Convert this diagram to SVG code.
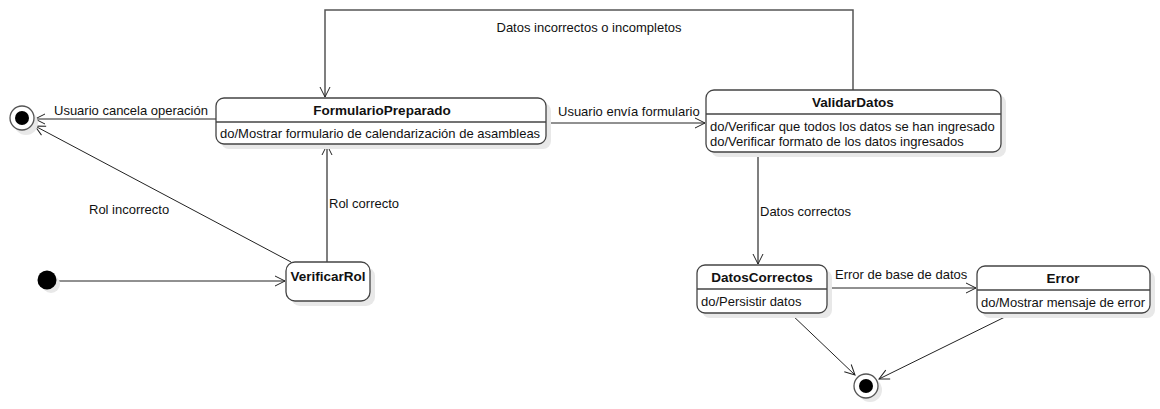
<svg xmlns="http://www.w3.org/2000/svg" width="1160" height="409" viewBox="0 0 1160 409">
<defs>
<style>
text{font-family:"Liberation Sans",Arial,sans-serif;font-size:13px;fill:#111}
.t{font-weight:bold;text-anchor:middle;font-size:13.5px}
.box{fill:#fff;stroke:#444;stroke-width:1.3}
.sh{fill:#e8e8e8;stroke:none}
.div{stroke:#444;stroke-width:1.3}
.c{fill:none;stroke:#222;stroke-width:1}
.cg{fill:none;stroke:#555;stroke-width:1.5}
</style>
<marker id="a" viewBox="0 0 12 12" refX="11" refY="6" markerWidth="12" markerHeight="12" markerUnits="userSpaceOnUse" orient="auto">
<path d="M1,1 L11,6 L1,11" fill="none" stroke="#222" stroke-width="1"/>
</marker>
</defs>
<g id="connectors">
<path class="cg" d="M853,90 V10 H325 V97" marker-end="url(#a)"/>
<text x="589" y="32" text-anchor="middle">Datos incorrectos o incompletos</text>
<path class="c" d="M546,123 H705" marker-end="url(#a)"/>
<text x="558" y="116">Usuario envía formulario</text>
<path class="c" d="M216,119 H35" marker-end="url(#a)"/>
<text x="54" y="115">Usuario cancela operación</text>
<path class="c" d="M291,262 L35,126" marker-end="url(#a)"/>
<text x="89" y="214">Rol incorrecto</text>
<path class="cg" d="M327,262 V145" marker-end="url(#a)"/>
<text x="329" y="208">Rol correcto</text>
<path class="c" d="M56,281 H285" marker-end="url(#a)"/>
<path class="cg" d="M758,152 V264" marker-end="url(#a)"/>
<text x="760" y="216">Datos correctos</text>
<path class="c" d="M827,288 H976" marker-end="url(#a)"/>
<text x="835" y="279">Error de base de datos</text>
<path class="c" d="M790,313 L855,375" marker-end="url(#a)"/>
<path class="c" d="M1013,313 L879,379" marker-end="url(#a)"/>
</g>
<g id="final1">
<circle cx="26" cy="123" r="12" class="sh"/>
<circle cx="22" cy="118" r="12" fill="#fff" stroke="#555" stroke-width="1.3"/>
<circle cx="22" cy="118" r="7" fill="#000"/>
</g>
<g id="initial">
<circle cx="51" cy="284" r="9" class="sh"/>
<circle cx="47" cy="280" r="9.5" fill="#000"/>
</g>
<g id="FormularioPreparado">
<rect x="221" y="103" width="330" height="46" rx="8" class="sh"/>
<rect x="216" y="98" width="330" height="46" rx="8" class="box"/>
<line x1="216" y1="122" x2="546" y2="122" class="div"/>
<text x="382" y="115" class="t">FormularioPreparado</text>
<text x="220" y="138">do/Mostrar formulario de calendarización de asambleas</text>
</g>
<g id="ValidarDatos">
<rect x="711" y="95" width="295" height="62" rx="8" class="sh"/>
<rect x="706" y="90" width="295" height="62" rx="8" class="box"/>
<line x1="706" y1="114" x2="1001" y2="114" class="div"/>
<text x="853" y="107" class="t">ValidarDatos</text>
<text x="710" y="131">do/Verificar que todos los datos se han ingresado</text>
<text x="710" y="146">do/Verificar formato de los datos ingresados</text>
</g>
<g id="VerificarRol">
<rect x="291" y="267" width="84" height="39" rx="9" class="sh"/>
<rect x="286" y="262" width="84" height="39" rx="9" class="box"/>
<text x="328" y="281" class="t">VerificarRol</text>
</g>
<g id="DatosCorrectos">
<rect x="702" y="270" width="130" height="48" rx="8" class="sh"/>
<rect x="697" y="265" width="130" height="48" rx="8" class="box"/>
<line x1="697" y1="289" x2="827" y2="289" class="div"/>
<text x="762" y="282" class="t">DatosCorrectos</text>
<text x="701" y="306">do/Persistir datos</text>
</g>
<g id="Error">
<rect x="982" y="271" width="173" height="47" rx="8" class="sh"/>
<rect x="977" y="266" width="173" height="47" rx="8" class="box"/>
<line x1="977" y1="290" x2="1150" y2="290" class="div"/>
<text x="1063" y="283" class="t">Error</text>
<text x="981" y="307">do/Mostrar mensaje de error</text>
</g>
<g id="final2">
<circle cx="870" cy="390" r="12" class="sh"/>
<circle cx="866" cy="386" r="12" fill="#fff" stroke="#555" stroke-width="1.3"/>
<circle cx="866" cy="386" r="7" fill="#000"/>
</g>
</svg>
